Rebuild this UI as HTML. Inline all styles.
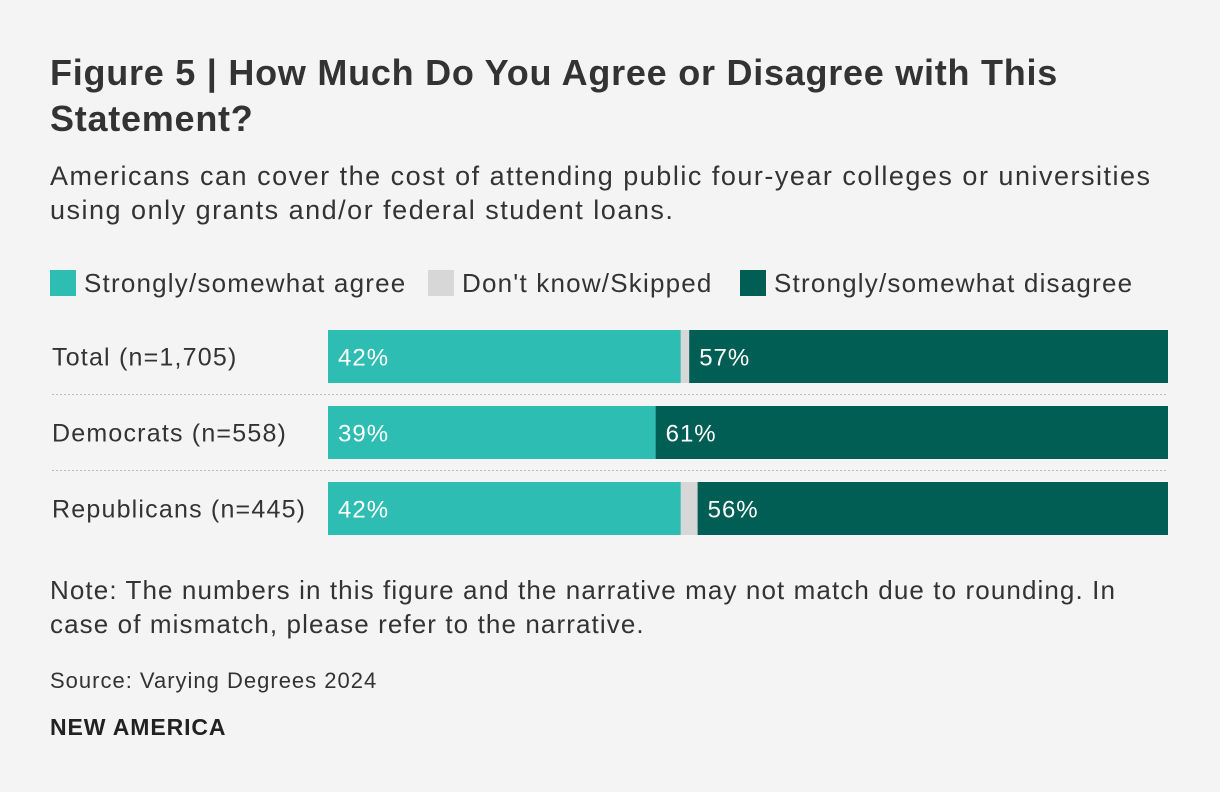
<!DOCTYPE html>
<html><head><meta charset="utf-8"><style>
body{margin:0;background:#f4f4f4;font-family:"Liberation Sans",sans-serif;color:#333;}
#root{position:relative;width:1220px;height:792px;overflow:hidden;background:#f4f4f4;}
.t{position:absolute;white-space:nowrap;}
</style></head><body>
<div id="root">
<div class="t" style="left:50px;top:50px;font-size:36px;letter-spacing:0.75px;font-weight:bold;line-height:46px;color:#333;">Figure 5 | How Much Do You Agree or Disagree with This<br>Statement?</div>
<div class="t" style="left:50px;top:159px;font-size:27px;letter-spacing:1.5px;line-height:34px;color:#333;">Americans can cover the cost of attending public four-year colleges or universities<br>using only grants and/or federal student loans.</div>
<div id="legend"></div>
<svg id="chart" width="1220" height="792" style="position:absolute;left:0;top:0;"></svg>
<div class="t" style="left:50px;top:573px;font-size:26px;letter-spacing:1.1px;line-height:34px;">Note: The numbers in this figure and the narrative may not match due to rounding. In<br>case of mismatch, please refer to the narrative.</div>
<div class="t" style="left:50px;top:668px;font-size:22px;letter-spacing:1px;">Source: Varying Degrees 2024</div>
<div class="t" style="left:50px;top:714px;font-size:23px;letter-spacing:0.9px;font-weight:bold;color:#222;">NEW AMERICA</div>
</div>
<script>
const categories=["Total (n=1,705)","Democrats (n=558)","Republicans (n=445)"];
const agree=[42,39,42];
const dontKnow=[1,0,2];
const disagree=[57,61,56];
const seriesNames=["Strongly/somewhat agree","Don't know/Skipped","Strongly/somewhat disagree"];
const colors=["#2ebdb2","#d7d7d7","#005e55"];
const NS="http://www.w3.org/2000/svg";
const svg=document.getElementById('chart');
const x0=328,x1=1168,rowTop=330,rowStep=76,barH=53;
const xs=v=>(x1-x0)*v/100;
function mk(tag,attrs){const e=document.createElementNS(NS,tag);for(const k in attrs)e.setAttribute(k,attrs[k]);svg.appendChild(e);return e;}
categories.forEach((c,i)=>{
  const y=rowTop+i*rowStep;
  const lab=mk('text',{x:52,y:y+barH/2+9,'font-size':25,'letter-spacing':1.2,fill:'#333'});
  lab.textContent=c;
  
  
  const tot=agree[i]+dontKnow[i]+disagree[i];
  const vals=[agree[i],dontKnow[i],disagree[i]];
  let cx=x0;
  vals.forEach((v,j)=>{
    const w=xs(v*100/tot);
    const r=mk('rect',{x:cx,y:y,width:w,height:barH,fill:colors[j]});
    
    
    if(j!==1&&v>0){
      const t=mk('text',{x:cx+10,y:y+barH/2+9,'font-size':24,'letter-spacing':1,fill:'#fff'});
      t.textContent=v+'%';
      
      
    }
    cx+=w;
  });
  if(i<categories.length-1){
    const l=mk('line',{x1:52,x2:x1,y1:y+barH+11.5,y2:y+barH+11.5,stroke:'#bbb','stroke-width':1,'stroke-dasharray':'2,2'});
    
    
  }
});
const leg=document.getElementById('legend');
const legX=[50,428,740];
seriesNames.forEach((n,j)=>{
  const d=document.createElement('div');
  d.className='t';
  d.style.cssText=`left:${legX[j]}px;top:269px;font-size:26px;letter-spacing:1.2px;line-height:28px;display:flex;align-items:center;`;
  d.innerHTML=`<span style="display:inline-block;width:26px;height:26px;background:${colors[j]};margin-right:8px;"></span>${n}`;
  
  
  leg.appendChild(d);
});
</script>
</body></html>
